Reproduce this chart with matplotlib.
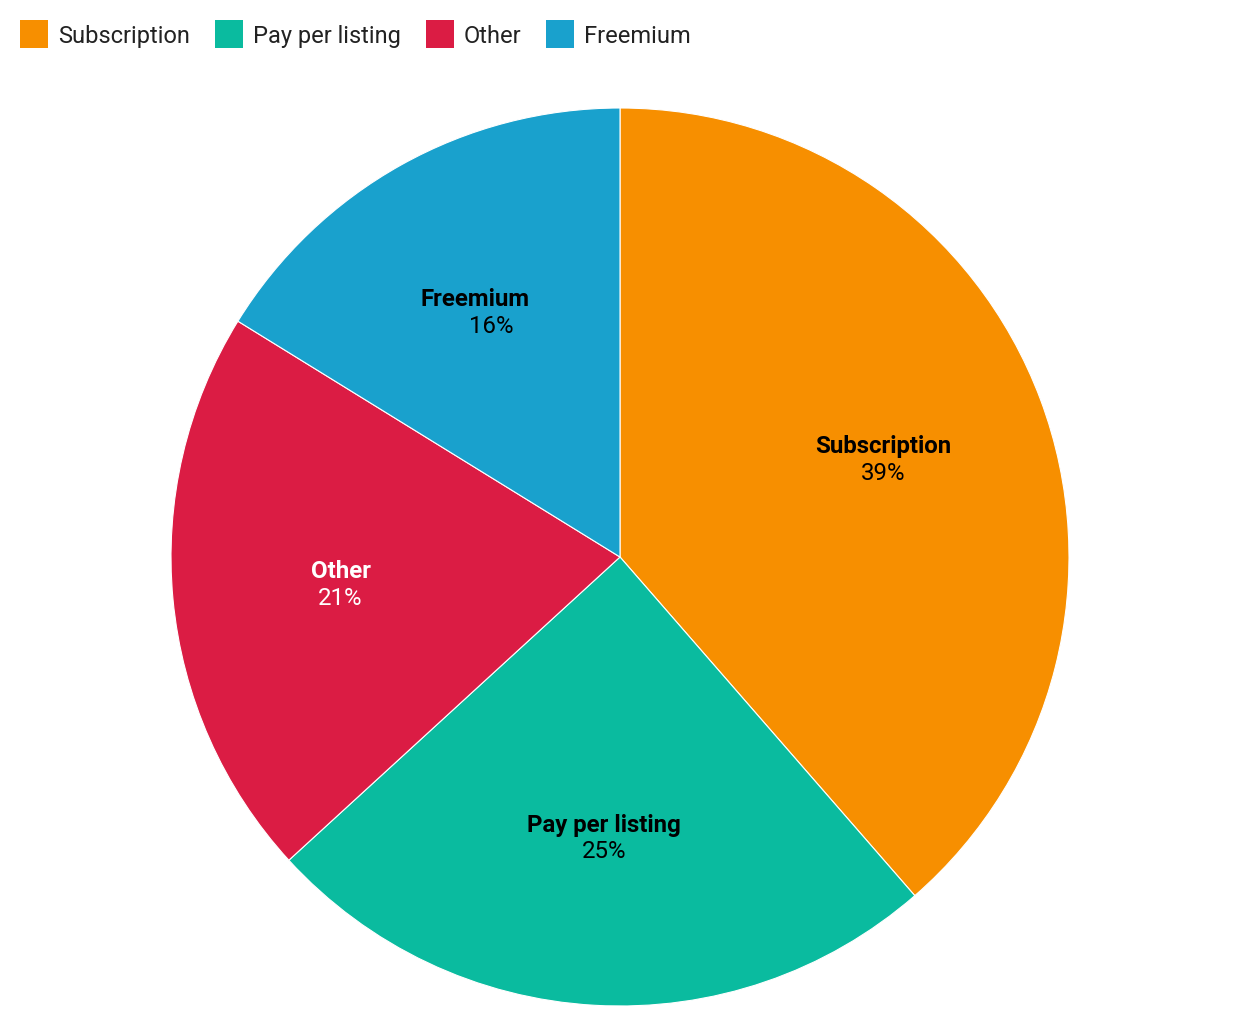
import numpy as np
import matplotlib.pyplot as plt
from matplotlib.patches import Rectangle

plt.rcParams['font.family'] = ['Roboto', 'DejaVu Sans']

# data
labels = ["Subscription", "Pay per listing", "Other", "Freemium"]
values = [38.6, 24.6, 20.6, 16.2]
pct_text = ["39%", "25%", "21%", "16%"]
colors = ["#F78F00", "#0ABB9F", "#DB1C44", "#19A1CD"]
label_colors = ["black", "black", "white", "black"]

W, H = 1240, 1032
fig = plt.figure(figsize=(W / 100, H / 100), dpi=100)
cx, cy, R = 620, 557, 449
ax = fig.add_axes(((cx - R) / W, (H - cy - R) / H, 2 * R / W, 2 * R / H))

wedges, _ = ax.pie(values, colors=colors, startangle=90, counterclock=False,
                   radius=1, wedgeprops=dict(edgecolor="white", linewidth=0.8))
ax.set_xlim(-1, 1)
ax.set_ylim(-1, 1)
ax.set_aspect("equal")
ax.axis("off")

# slice labels (freemium's name and % are not centred on each other in the original)
name_dx = [0, 0, 0, -0.018]
pct_dx = [0, 0, 0, 0.018]
tot = sum(values)
start = 90.0
for i, v in enumerate(values):
    mid = start - v / tot * 360 / 2
    start -= v / tot * 360
    r = 0.625
    x = r * np.cos(np.radians(mid))
    y = r * np.sin(np.radians(mid)) - 0.003
    ax.text(x + name_dx[i], y + 0.03, labels[i], ha="center", va="center", fontsize=17.3,
            fontweight="bold", color=label_colors[i])
    ax.text(x + pct_dx[i], y - 0.03, pct_text[i], ha="center", va="center",
            fontsize=17.3, color=label_colors[i])

# legend drawn by hand, in pixels from the top left
renderer = fig.canvas.get_renderer()
lx = 20
for lab, c in zip(labels, colors):
    fig.patches.append(Rectangle((lx / W, 1 - 48 / H), 28 / W, 28 / H,
                                 transform=fig.transFigure, facecolor=c, edgecolor="none"))
    t = fig.text((lx + 38) / W, 1 - 34 / H, lab, ha="left", va="center_baseline",
                 fontsize=17.0, color="#222222")
    wpx = t.get_window_extent(renderer).width
    lx = lx + 38 + wpx + 25

fig.savefig("out.png", dpi=100, facecolor="white")
